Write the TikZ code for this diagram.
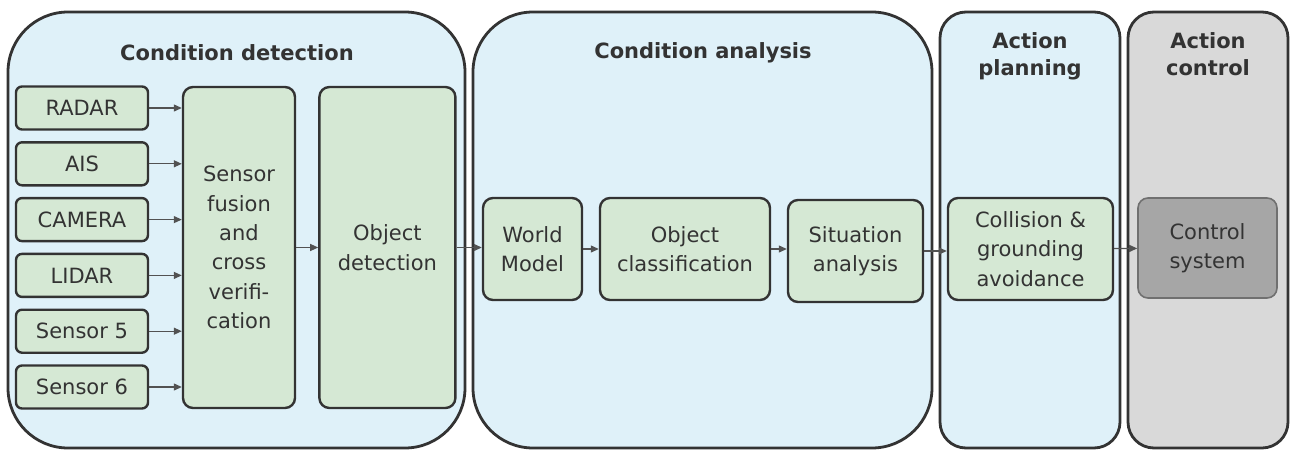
\documentclass[tikz,border=0pt]{standalone}
\usepackage{fontspec}
\setmainfont{DejaVu Sans}
\usetikzlibrary{arrows.meta,positioning,calc}
\definecolor{panelblue}{HTML}{DFF1F9}
\definecolor{boxgreen}{HTML}{D5E8D4}
\definecolor{panelgray}{HTML}{D9D9D9}
\definecolor{boxgray}{HTML}{A6A6A6}
\definecolor{edge}{HTML}{333333}
\tikzset{
	panel/.style={
		draw=edge,
		line width=1.4pt,
		fill=panelblue,
		rounded corners=30pt,
	},
	title/.style={
		font=\bfseries\fontsize{10.5}{13.5}\selectfont,
		text=edge,
		align=center,
	},
	block/.style={
		rectangle,
		rounded corners=5pt,
		draw=edge,
		line width=1.2pt,
		fill=boxgreen,
		text=edge,
		align=center,
		inner sep=1pt,
		font=\fontsize{10.5}{14.7}\selectfont,
	},
	sensor/.style={
		block,
		rounded corners=3pt,
		minimum width=66pt,
		minimum height=21.5pt,
	},
	link/.style={
		-{Triangle[length=4pt,width=3.5pt]},
		draw=edge!85,
		line width=0.6pt,
	}
}

\begin{document}
\begin{tikzpicture}[x=0.5pt,y=-0.5pt,node distance=5.2pt and 11pt]

\useasboundingbox (0,0) rectangle (1291,450);

% panels
\draw[panel] (8,12) rectangle (465,448);
\draw[panel] (473,12) rectangle (932,448);
\draw[panel,rounded corners=13pt] (940,12) rectangle (1120,448);
\draw[panel,rounded corners=13pt,fill=panelgray] (1128,12) rectangle (1288,448);

\node[title] (tdet) at (237,53) {Condition detection};
\node[title] (tana) at (703,53) {Condition analysis};
\node[title] (tpla) at (1030,56) {Action\\planning};
\node[title] (tcon) at (1208,54) {Action\\control};

% sensors
\node[sensor] (radar) at (82,108) {RADAR};
\node[sensor] (ais) [below=of radar] {AIS};
\node[sensor] (camera) [below=of ais] {CAMERA};
\node[sensor] (lidar) [below=of camera] {LIDAR};
\node[sensor] (s5) [below=of lidar] {Sensor 5};
\node[sensor] (s6) [below=of s5] {Sensor 6};

\node[block,minimum width=56pt,minimum height=160.5pt] (fusion) at (239,247.5)
  {Sensor\\fusion\\and\\cross\\verifi-\\cation};
\node[block,minimum width=68pt,minimum height=160.5pt] (objdet) [right=of fusion]
  {Object\\detection};

% analysis chain
\node[block,minimum width=49.5pt,minimum height=51pt] (world) at (532.5,249) {World\\Model};
\node[block,minimum width=85pt,minimum height=51pt] (objcls) at (685,249) {Object\\classification};
\node[block,minimum width=67.5pt,minimum height=51pt] (situ) at (855.5,251) {Situation\\analysis};
\node[block,minimum width=82.5pt,minimum height=51pt] (coll) at (1030.5,249) {Collision \&\\grounding\\avoidance};
\node[block,minimum width=69.5pt,minimum height=50pt,fill=boxgray,draw=edge!70,line width=0.8pt] (ctrl) at (1207.5,248) {Control\\system};

\foreach \s in {radar,ais,camera,lidar,s5,s6}
  \draw[link] (\s.east) -- (\s.east -| fusion.west);

\draw[link] 
  (fusion) 
  -- 
  (objdet);

\draw[link] 
  (objdet.east) 
  -- 
  (objdet.east -| world.west);

\draw[link] 
  (world) 
  -- 
  (objcls);

\draw[link] 
  (objcls.east) 
  -- 
  (objcls.east -| situ.west);

\draw[link] 
  (situ.east) 
  -- 
  (situ.east -| coll.west);

\draw[link] 
  (coll) 
  -- 
  (ctrl);

\end{tikzpicture}
\end{document}
